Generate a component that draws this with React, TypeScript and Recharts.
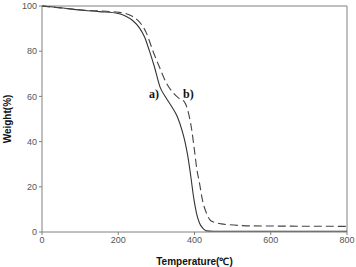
import React from 'react';
import { ComposedChart, Line, XAxis, YAxis, ReferenceLine, ReferenceDot } from 'recharts';

const tempA = [0, 50, 100, 150, 200, 220, 237, 256, 269, 282, 295, 310, 325, 340, 355, 369, 375, 382, 390, 398, 405, 413, 421, 431, 450, 600, 800];
const weightA = [100, 99.2, 98.2, 97.5, 96.7, 95.5, 93.7, 90.2, 86.3, 80, 73, 64, 59.5, 55.5, 51, 44, 40, 34, 25, 15, 8.5, 4, 1.8, 0.5, 0.3, 0.3, 0.3];

const tempB = [0, 100, 200, 230, 251, 274, 290, 308, 326, 342, 360, 374, 382, 392, 400, 406, 413, 421, 431, 440, 447, 470, 492, 550, 800];
const weightB = [100, 98.3, 97.2, 96, 93.7, 88, 80.5, 73, 66, 62, 59, 57.5, 54, 46, 36, 28, 21.7, 14, 8.5, 5.5, 4.6, 3.6, 3.2, 2.7, 2.5];

const xTicks = [0, 200, 400, 600, 800];
const yTicks = [0, 20, 40, 60, 80, 100];

const seriesA = tempA.map((t, i) => ({ t, w: weightA[i] }));
const seriesB = tempB.map((t, i) => ({ t, w: weightB[i] }));

const axisColor = '#808080';
const tickStyle = { fontSize: 9, fill: '#555', fontFamily: 'Liberation Sans, Arial, sans-serif' };

export default function App() {
  return (
    <div style={{ position: 'absolute', left: 0, top: 0, width: 356, height: 267, background: '#fff' }}>
      <ComposedChart width={356} height={267} margin={{ top: 6, right: 9, left: 0, bottom: 0 }}>
        <XAxis
          type="number"
          dataKey="t"
          domain={[0, 800]}
          ticks={xTicks}
          allowDuplicatedCategory={false}
          height={35}
          stroke={axisColor}
          tickSize={3}
          tick={tickStyle}
          label={{ value: 'Temperature(℃)', position: 'insideBottom', offset: 2, style: { fontSize: 10, fontWeight: 'bold', fill: '#111', fontFamily: 'Liberation Sans, Arial, sans-serif' } }}
        />
        <YAxis
          type="number"
          dataKey="w"
          domain={[0, 100]}
          ticks={yTicks}
          width={42}
          stroke={axisColor}
          tickSize={3}
          tick={tickStyle}
          label={{ value: 'Weight(%)', angle: -90, position: 'insideLeft', offset: 7, style: { fontSize: 10, fontWeight: 'bold', fill: '#111', fontFamily: 'Liberation Sans, Arial, sans-serif', textAnchor: 'middle' } }}
        />
        <ReferenceLine y={100} stroke={axisColor} />
        <ReferenceLine x={800} stroke={axisColor} />
        <Line data={seriesA} dataKey="w" type="monotone" stroke="#333" strokeWidth={1.1} dot={false} isAnimationActive={false} />
        <Line data={seriesB} dataKey="w" type="monotone" stroke="#444" strokeWidth={1.1} strokeDasharray="8 4" dot={false} isAnimationActive={false} />
        <ReferenceDot x={294} y={61} r={0} stroke="none" label={{ value: 'a)', position: 'center', style: { fontSize: 12, fontWeight: 'bold', fill: '#111', fontFamily: 'Liberation Serif, Times New Roman, serif' } }} />
        <ReferenceDot x={384} y={61} r={0} stroke="none" label={{ value: 'b)', position: 'center', style: { fontSize: 12, fontWeight: 'bold', fill: '#111', fontFamily: 'Liberation Serif, Times New Roman, serif' } }} />
      </ComposedChart>
    </div>
  );
}
